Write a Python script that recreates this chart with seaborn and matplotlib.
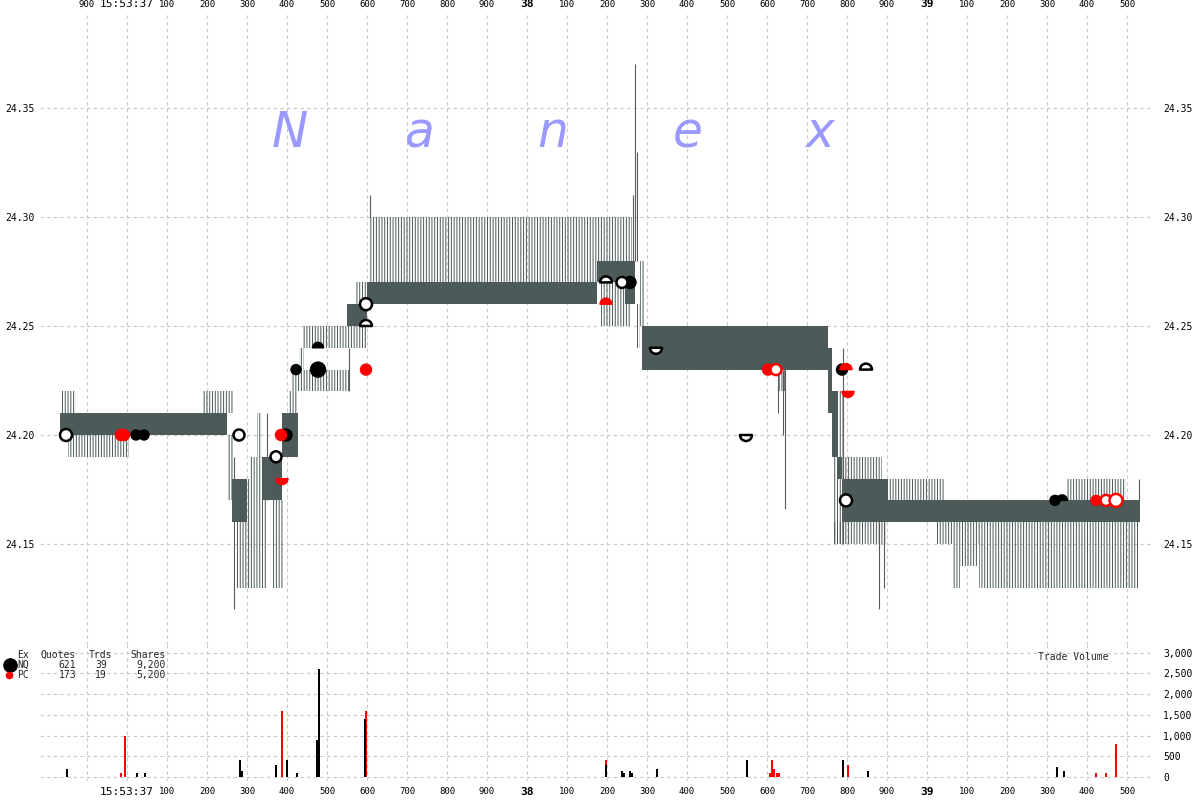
import matplotlib
matplotlib.use("Agg")
import pandas as pd
import seaborn as sns
import matplotlib.pyplot as plt
from matplotlib.path import Path
from matplotlib.lines import Line2D

# time = milliseconds after 15:53:37.000, price in $
# tight (dense) quote band
band_t0 = [-167.5, 262.5, 337.5, 387.5, 550, 600, 1175, 1245, 1287.5, 1752.5, 1762.5, 1777.5, 1787.5, 1900]
band_t1 = [250, 300, 387.5, 427.5, 600, 1175, 1270, 1270, 1752.5, 1762.5, 1777.5, 1787.5, 1900, 2532.5]
band_lo = [24.20, 24.16, 24.17, 24.19, 24.25, 24.26, 24.27, 24.26, 24.23, 24.21, 24.19, 24.18, 24.16, 24.16]
band_hi = [24.21, 24.18, 24.19, 24.21, 24.26, 24.27, 24.28, 24.27, 24.25, 24.24, 24.22, 24.19, 24.18, 24.17]

# wider exchange quotes (sparse vertical lines)
wide_t0 = [-165, -147.5, 190, 250, 275, 307.5, 325, 365, 402.5, 412.5, 430, 437.5, 425, 550, 572.5,
           605, 1175, 1185, 1272.5, 1282.5, 1630, 1765, 1795, 1765, 1900, 2350, 2025, 2065, 2082.5, 2130]
wide_t1 = [-127.5, 5, 265, 265, 347.5, 325, 337.5, 390, 425, 425, 442.5, 550, 557.5, 600, 602.5,
           1175, 1262.5, 1257.5, 1282.5, 1295, 1647.5, 1795, 1887.5, 1900, 2042.5, 2497.5, 2530, 2082.5, 2127.5, 2530]
wide_lo = [24.21, 24.19, 24.21, 24.17, 24.13, 24.18, 24.18, 24.13, 24.21, 24.22, 24.23, 24.24, 24.22, 24.24, 24.26,
           24.27, 24.28, 24.25, 24.24, 24.25, 24.22, 24.15, 24.18, 24.15, 24.17, 24.17, 24.15, 24.13, 24.14, 24.13]
wide_hi = [24.22, 24.20, 24.22, 24.20, 24.18, 24.19, 24.21, 24.17, 24.22, 24.23, 24.24, 24.25, 24.23, 24.25, 24.27,
           24.30, 24.30, 24.27, 24.26, 24.28, 24.23, 24.22, 24.19, 24.16, 24.18, 24.18, 24.16, 24.15, 24.15, 24.15]

# single quote spikes
spike_t = [267.5, 350, 555, 607.5, 1265, 1270, 1275, 1627.5, 1640, 1645, 1790, 1880, 1892.5, 2530]
spike_lo = [24.12, 24.17, 24.22, 24.30, 24.28, 24.28, 24.28, 24.21, 24.20, 24.166, 24.15, 24.12, 24.13, 24.17]
spike_hi = [24.19, 24.21, 24.24, 24.31, 24.31, 24.37, 24.33, 24.23, 24.23, 24.23, 24.24, 24.16, 24.16, 24.18]

# trades
trade_t = [-152.5, -15, -7.5, 22.5, 42.5, 280, 372.5, 385, 387.5, 397.5, 422.5, 477.5, 477.5,
           597.5, 597.5, 597.5, 1197.5, 1197.5, 1237.5, 1257.5, 1322.5, 1547.5, 1602.5, 1622.5,
           1787.5, 1797.5, 1802.5, 1847.5, 1797.5, 2320, 2337.5, 2422.5, 2447.5, 2472.5]
trade_px = [24.20, 24.20, 24.20, 24.20, 24.20, 24.20, 24.19, 24.20, 24.18, 24.20, 24.23, 24.24, 24.23,
            24.26, 24.25, 24.23, 24.27, 24.26, 24.27, 24.27, 24.24, 24.20, 24.23, 24.23,
            24.23, 24.23, 24.22, 24.23, 24.17, 24.17, 24.17, 24.17, 24.17, 24.17]
trade_ex = ["NQ", "PC", "PC", "NQ", "NQ", "NQ", "NQ", "PC", "PC", "NQ", "NQ", "NQ", "NQ",
            "NQ", "NQ", "PC", "NQ", "PC", "NQ", "NQ", "NQ", "NQ", "PC", "PC",
            "NQ", "PC", "PC", "NQ", "NQ", "NQ", "NQ", "PC", "PC", "PC"]
trade_kind = ["open", "fill", "fill", "fill", "fill", "open", "open", "fill", "bowl", "fill", "fill", "dome", "fill",
              "open", "dome_open", "fill", "dome_open", "dome", "open", "fill", "bowl_open", "bowl_open", "fill", "open",
              "fill", "dome", "bowl", "dome_open", "open", "fill", "dome", "fill", "open", "open"]
trade_dot = [12, 11, 11, 10, 10, 11, 11, 11, 12, 12, 10, 11, 15,
             12, 12, 11, 12, 12, 11, 12, 12, 12, 11, 11,
             11, 12, 12, 12, 12, 10, 11, 10, 11, 13]

# trade volume bars
vol_t = [-15, -5, 387.5, 597.5, 1197.5, 1607.5, 1612.5, 1617.5, 1625, 1630, 1802.5, 2422.5, 2447.5, 2472.5,
         -150, 25, 45, 282.5, 287.5, 372.5, 400, 425, 475, 480, 595, 1197.5, 1237.5, 1242.5, 1257.5,
         1262.5, 1325, 1550, 1790, 1852.5, 2325, 2342.5]
vol_sh = [100, 1000, 1600, 1600, 400, 100, 400, 200, 100, 100, 300, 100, 100, 800,
          200, 100, 100, 400, 150, 300, 400, 100, 900, 2600, 1400, 300, 150, 100, 150,
          100, 200, 400, 400, 150, 250, 150]
vol_ex = ["PC"] * 14 + ["NQ"] * 22

ex_names = ["NQ", "PC"]
ex_quotes = [621, 173]
ex_trades = [39, 19]
ex_shares = [9200, 5200]

tick_ms = list(range(-100, 2600, 100))
top_labels = ["900", "15:53:37", "100", "200", "300", "400", "500", "600", "700", "800", "900",
              "38", "100", "200", "300", "400", "500", "600", "700", "800", "900",
              "39", "100", "200", "300", "400", "500"]
bottom_labels = [""] + top_labels[1:]
price_ticks = [24.15, 24.20, 24.25, 24.30, 24.35]
vol_ticks = [0, 500, 1000, 1500, 2000, 2500, 3000]

EX_COLOR = {"NQ": "black", "PC": "#ff0000"}
BAND = "#4d5a5a"
WIDE = "#4a5858"
GRID = "#c8c8c8"

sns.set_theme(style="white")
plt.rcParams["font.family"] = ["DejaVu Sans Mono", "DejaVu Sans"]
plt.rcParams["hatch.linewidth"] = 0.7

W, H = 1200, 800
fig = plt.figure(figsize=(12, 8), dpi=100)


def fx(px):
    return px / W


def fy(py):
    return 1 - py / H


ax = fig.add_axes([fx(40), fy(645), fx(1152) - fx(40), fy(12) - fy(645)])
axv = fig.add_axes([fx(40), fy(781), fx(1152) - fx(40), fy(645) - fy(781)])

for a in (ax, axv):
    a.set_xlim(-217.5, 2562.5)
    a.set_xticks(tick_ms)
    a.grid(True, color=GRID, linestyle=(0, (3, 3)), linewidth=0.8)
    a.set_axisbelow(True)
    for s in a.spines.values():
        s.set_visible(False)
    a.set_facecolor("white")

ax.set_ylim(24.10367, 24.39404)
axv.set_ylim(-97, 3186)

# quotes
wide_h = [h - l for l, h in zip(wide_lo, wide_hi)]
wide_w = [b - a for a, b in zip(wide_t0, wide_t1)]
ax.bar(wide_t0, wide_h, width=wide_w, bottom=wide_lo, align="edge",
       facecolor="none", edgecolor=WIDE, hatch="||||||", linewidth=0, zorder=1)
band_h = [h - l for l, h in zip(band_lo, band_hi)]
band_w = [b - a for a, b in zip(band_t0, band_t1)]
ax.bar(band_t0, band_h, width=band_w, bottom=band_lo, align="edge",
       color=BAND, linewidth=0, zorder=2)
ax.vlines(spike_t, spike_lo, spike_hi, color="#5a5a5a", linewidth=0.8, zorder=2)

# trades
trades = pd.DataFrame({"t": trade_t, "px": trade_px, "ex": trade_ex,
                       "kind": trade_kind, "dot": trade_dot})
dome = Path.wedge(0, 180)
bowl = Path.wedge(180, 360)
kinds = {
    "fill": ("o", True), "open": ("o", False),
    "dome": (dome, True), "dome_open": (dome, False),
    "bowl": (bowl, True), "bowl_open": (bowl, False),
}
for (ex, kind), g in trades.groupby(["ex", "kind"]):
    marker, filled = kinds[kind]
    col = EX_COLOR[ex]
    sns.scatterplot(x=g["t"].values, y=g["px"].values, ax=ax, marker=marker,
                    s=(0.72 * g["dot"].values) ** 2,
                    color=col if filled else "white", edgecolor=col,
                    linewidth=1.0 if filled else 1.8, zorder=5, legend=False)

# volume
vol = pd.DataFrame({"t": vol_t, "sh": vol_sh, "ex": vol_ex})
for ex in ["PC", "NQ"]:
    v = vol[vol["ex"] == ex]
    axv.bar(v["t"], v["sh"], width=5, color=EX_COLOR[ex], linewidth=0, zorder=3)

# top time labels
ax.xaxis.tick_top()
ax.set_xticklabels(top_labels)
ax.tick_params(axis="x", length=0, pad=2.5, labelsize=6.5, colors="black")

# price labels, left and right
ax.set_yticks(price_ticks)
ax.set_yticklabels([f"{p:.2f}" for p in price_ticks])
ax.tick_params(axis="y", length=0, pad=3.5, labelsize=7, colors="black")
axr = ax.twinx()
axr.set_ylim(ax.get_ylim())
axr.set_yticks(price_ticks)
axr.set_yticklabels([f"{p:.2f}" for p in price_ticks])
axr.tick_params(axis="y", length=0, pad=8, labelsize=7, colors="black")
for s in axr.spines.values():
    s.set_visible(False)
axr.grid(False)

# bottom time labels and volume scale
axv.set_xticklabels(bottom_labels)
axv.tick_params(axis="x", length=0, pad=4, labelsize=6.5, colors="black")
axv.yaxis.tick_right()
axv.set_yticks(vol_ticks)
axv.set_yticklabels([f"{v:,}" for v in vol_ticks])
axv.tick_params(axis="y", length=0, pad=8, labelsize=7, colors="black")

for a in (ax, axv):
    for lab in a.get_xticklabels():
        if lab.get_text() in ("38", "39"):
            lab.set_fontweight("bold")
            lab.set_fontsize(8)
        elif lab.get_text() == "15:53:37":
            lab.set_fontsize(8)

# watermark
for ch, px in zip("Nanex", [290, 420, 553, 688, 820]):
    fig.text(fx(px), fy(133), ch, fontsize=35, style="italic", color="#9999ff",
             ha="center", va="center", family="DejaVu Sans")

# exchange table
fs = 7
fig.text(fx(17), fy(655), "Ex", fontsize=fs, va="center")
fig.text(fx(76), fy(655), "Quotes", fontsize=fs, va="center", ha="right")
fig.text(fx(112), fy(655), "Trds", fontsize=fs, va="center", ha="right")
fig.text(fx(166), fy(655), "Shares", fontsize=fs, va="center", ha="right")
for i, ex in enumerate(ex_names):
    yy = fy(665 + 10 * i)
    fig.text(fx(17), yy, ex, fontsize=fs, va="center")
    fig.text(fx(76), yy, f"{ex_quotes[i]}", fontsize=fs, va="center", ha="right")
    fig.text(fx(107), yy, f"{ex_trades[i]}", fontsize=fs, va="center", ha="right")
    fig.text(fx(166), yy, f"{ex_shares[i]:,}", fontsize=fs, va="center", ha="right")
fig.add_artist(Line2D([fx(10)], [fy(665)], marker="o", markersize=9.5, color="black",
                      linestyle="none", transform=fig.transFigure))
fig.add_artist(Line2D([fx(9)], [fy(675)], marker="o", markersize=4.5, color="#ff0000",
                      linestyle="none", transform=fig.transFigure))

fig.text(fx(1038), fy(657), "Trade Volume", fontsize=fs, va="center")

fig.savefig("out.png", dpi=100, facecolor="white")
